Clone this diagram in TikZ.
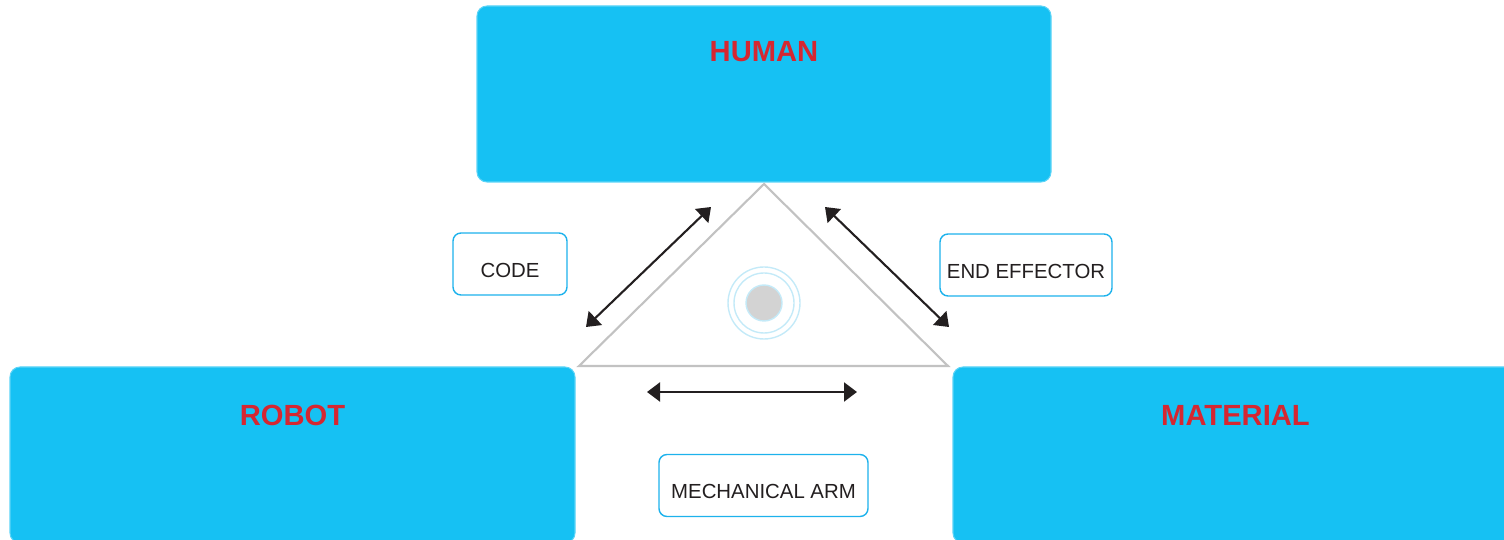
\documentclass[tikz,border=0pt]{standalone}
\usepackage{fontspec}
\setmainfont{Liberation Sans}
\usetikzlibrary{arrows.meta}

\definecolor{boxblue}{HTML}{16C1F3}
\definecolor{edgeblue}{HTML}{1DB2EC}
\definecolor{headred}{HTML}{D52731}
\definecolor{inkgray}{HTML}{231F20}
\definecolor{trigray}{HTML}{C2C2C2}
\definecolor{ringblue}{HTML}{C4EAF8}
\definecolor{dotgray}{HTML}{D3D3D3}

\tikzset{
	bigbox/.style={fill=boxblue, draw=boxblue!70!white, line width=0.3pt, rounded corners=0.1cm, minimum width=5.65cm, minimum height=1.76cm, inner sep=0pt},
	headtext/.style={text=headred, font=\bfseries\fontsize{8.3}{10}\selectfont, text height=5.9pt, text depth=0pt, inner sep=0pt},
	tagbox/.style={draw=edgeblue, fill=white, line width=0.4pt, rounded corners=0.08cm, minimum height=0.62cm, text=inkgray, font=\fontsize{5.8}{7}\selectfont, text height=7.5pt, text depth=0pt, inner sep=0pt},
	twoway/.style={{Triangle[length=0.13cm,width=0.19cm]}-{Triangle[length=0.13cm,width=0.19cm]}, line width=0.6pt, draw=inkgray, fill=inkgray}
}

\begin{document}
\begin{tikzpicture}
	\useasboundingbox (0,0) rectangle (15.04,5.4);

	\node[bigbox, minimum width=5.74cm] (human) at (7.64,4.46) {};
	\node[bigbox] (robot) at (2.925,0.85) {};
	\node[bigbox] (material) at (12.355,0.85) {};

	\node[headtext] (humanhead) at ([yshift=-0.46cm]human.north) {HUMAN};
	\node[headtext] (robothead) at ([yshift=-0.49cm]robot.north) {ROBOT};
	\node[headtext] (materialhead) at ([yshift=-0.49cm]material.north) {MATERIAL};

	\draw[trigray, line width=0.6pt] (7.64,3.56) -- (9.48,1.74) -- (5.79,1.74) -- cycle;

	\filldraw[fill=dotgray, draw=ringblue, line width=0.4pt] (7.64,2.37) circle[radius=0.18];
	\foreach \r in {0.30, 0.36}
		\draw[ringblue, line width=0.4pt] (7.64,2.37) circle[radius=\r];

	\coordinate (codelow) at (5.86,2.13);
	\coordinate (codehigh) at (7.11,3.33);
	\coordinate (efflow) at (9.49,2.13);
	\coordinate (effhigh) at (8.25,3.33);
	\coordinate (armleft) at (6.47,1.48);
	\coordinate (armright) at (8.57,1.48);

	\draw[twoway] (codelow) -- (codehigh);
	\draw[twoway] (effhigh) -- (efflow);
	\draw[twoway] (armleft) -- (armright);

	\node[tagbox, minimum width=1.14cm] (code) at (5.10,2.76) {CODE};
	\node[tagbox, minimum width=1.72cm] (effector) at (10.26,2.75) {END EFFECTOR};
	\node[tagbox, minimum width=2.09cm] (arm) at (7.635,0.545) {MECHANICAL ARM};
\end{tikzpicture}
\end{document}
